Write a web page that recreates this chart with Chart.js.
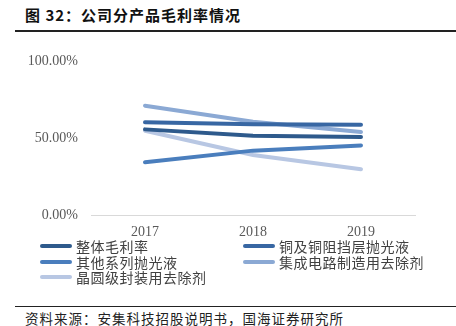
<!DOCTYPE html>
<html><head><meta charset="utf-8">
<script src="https://cdn.jsdelivr.net/npm/chart.js@4/dist/chart.umd.min.js"></script>
<style>
html,body{margin:0;padding:0;background:#fff;width:456px;height:326px;overflow:hidden;}
#wrap{position:relative;width:456px;height:326px;}
#title{position:absolute;left:25px;top:6px;height:18px;line-height:18px;font:bold 15px/18px "Noto Sans CJK SC";letter-spacing:1px;color:#111;white-space:nowrap;}
#rule1{position:absolute;left:15px;top:30px;width:441px;height:1.5px;background:#222;}
#rule2{position:absolute;left:15px;top:306px;width:441px;height:1px;background:#222;}
#source{position:absolute;left:25px;top:310px;height:16px;font:13.5px/16px "Noto Sans CJK SC";letter-spacing:1px;color:#222;white-space:nowrap;}
#cv{position:absolute;left:0;top:0;}
.lg{position:absolute;display:flex;align-items:center;font:14px "Noto Sans CJK SC";letter-spacing:0.5px;color:#404040;white-space:nowrap;}
.lg span.sw{display:inline-block;width:32px;height:4px;border-radius:2px;margin-right:4px;}
</style></head>
<body><div id="wrap">
<div id="title">图 32：公司分产品毛利率情况</div>
<div id="rule1"></div>
<canvas id="cv" width="456" height="240"></canvas>
<div id="legend"></div>
<div id="rule2"></div>
<div id="source">资料来源：安集科技招股说明书，国海证券研究所</div>
</div>
<script>
const categories = ['2017','2018','2019'];
const seriesNames = ['整体毛利率','铜及铜阻挡层抛光液','其他系列抛光液','集成电路制造用去除剂','晶圆级封装用去除剂'];
const overall   = [55.6, 51.5, 50.6];
const copper    = [60.2, 58.9, 58.6];
const otherPol  = [34.2, 41.8, 45.2];
const icRemover = [71.0, 60.6, 53.9];
const wlpRemover= [54.7, 39.0, 29.7];
const colors = ['#2E5A8C','#3867A3','#4A7EBD','#8BA9D4','#B8C7E3'];
const seriesValues = [overall, copper, otherPol, icRemover, wlpRemover];
const yTicks = [0, 50, 100];

const datasets = seriesNames.map((n,i)=>({
  label:n, data:seriesValues[i], borderColor:colors[i], backgroundColor:colors[i],
  borderWidth:4, pointRadius:0, tension:0, borderCapStyle:'round', fill:false
}));
const chart = new Chart(document.getElementById('cv'), {
  type:'line',
  data:{labels:categories, datasets:datasets},
  options:{
    responsive:false, animation:false,
    layout:{padding:{left:0,right:41,top:61,bottom:0}},
    plugins:{legend:{display:false}, tooltip:{enabled:false}},
    scales:{
      x:{offset:true,
        grid:{display:false, drawTicks:false},
        border:{display:true,color:'#D9D9D9',width:1},
        ticks:{padding:9,color:'#595959',font:{family:'"Liberation Serif"',size:14}},
        afterFit:s=>{s.height=25;}
      },
      y:{min:0,max:100,
        afterBuildTicks:s=>{s.ticks=yTicks.map(v=>({value:v}));},
        grid:{display:false, drawTicks:false},
        border:{display:false},
        ticks:{padding:13,color:'#595959',font:{family:'"Liberation Serif"',size:14},
          callback:v=>v.toFixed(2)+'%'},
        afterFit:s=>{s.width=91;}
      }
    }
  }
});

const lg = document.getElementById('legend');
const pos = [[40,246],[243,246],[40,262],[243,262],[40,277]];
chart.data.datasets.forEach((d,i)=>{
  const el=document.createElement('div'); el.className='lg';
  el.style.left=pos[i][0]+'px'; el.style.top=(pos[i][1]-10)+'px'; el.style.height='20px';
  el.innerHTML='<span class="sw" style="background:'+d.borderColor+'"></span>'+d.label;
  lg.appendChild(el);
});
</script>
</body></html>
